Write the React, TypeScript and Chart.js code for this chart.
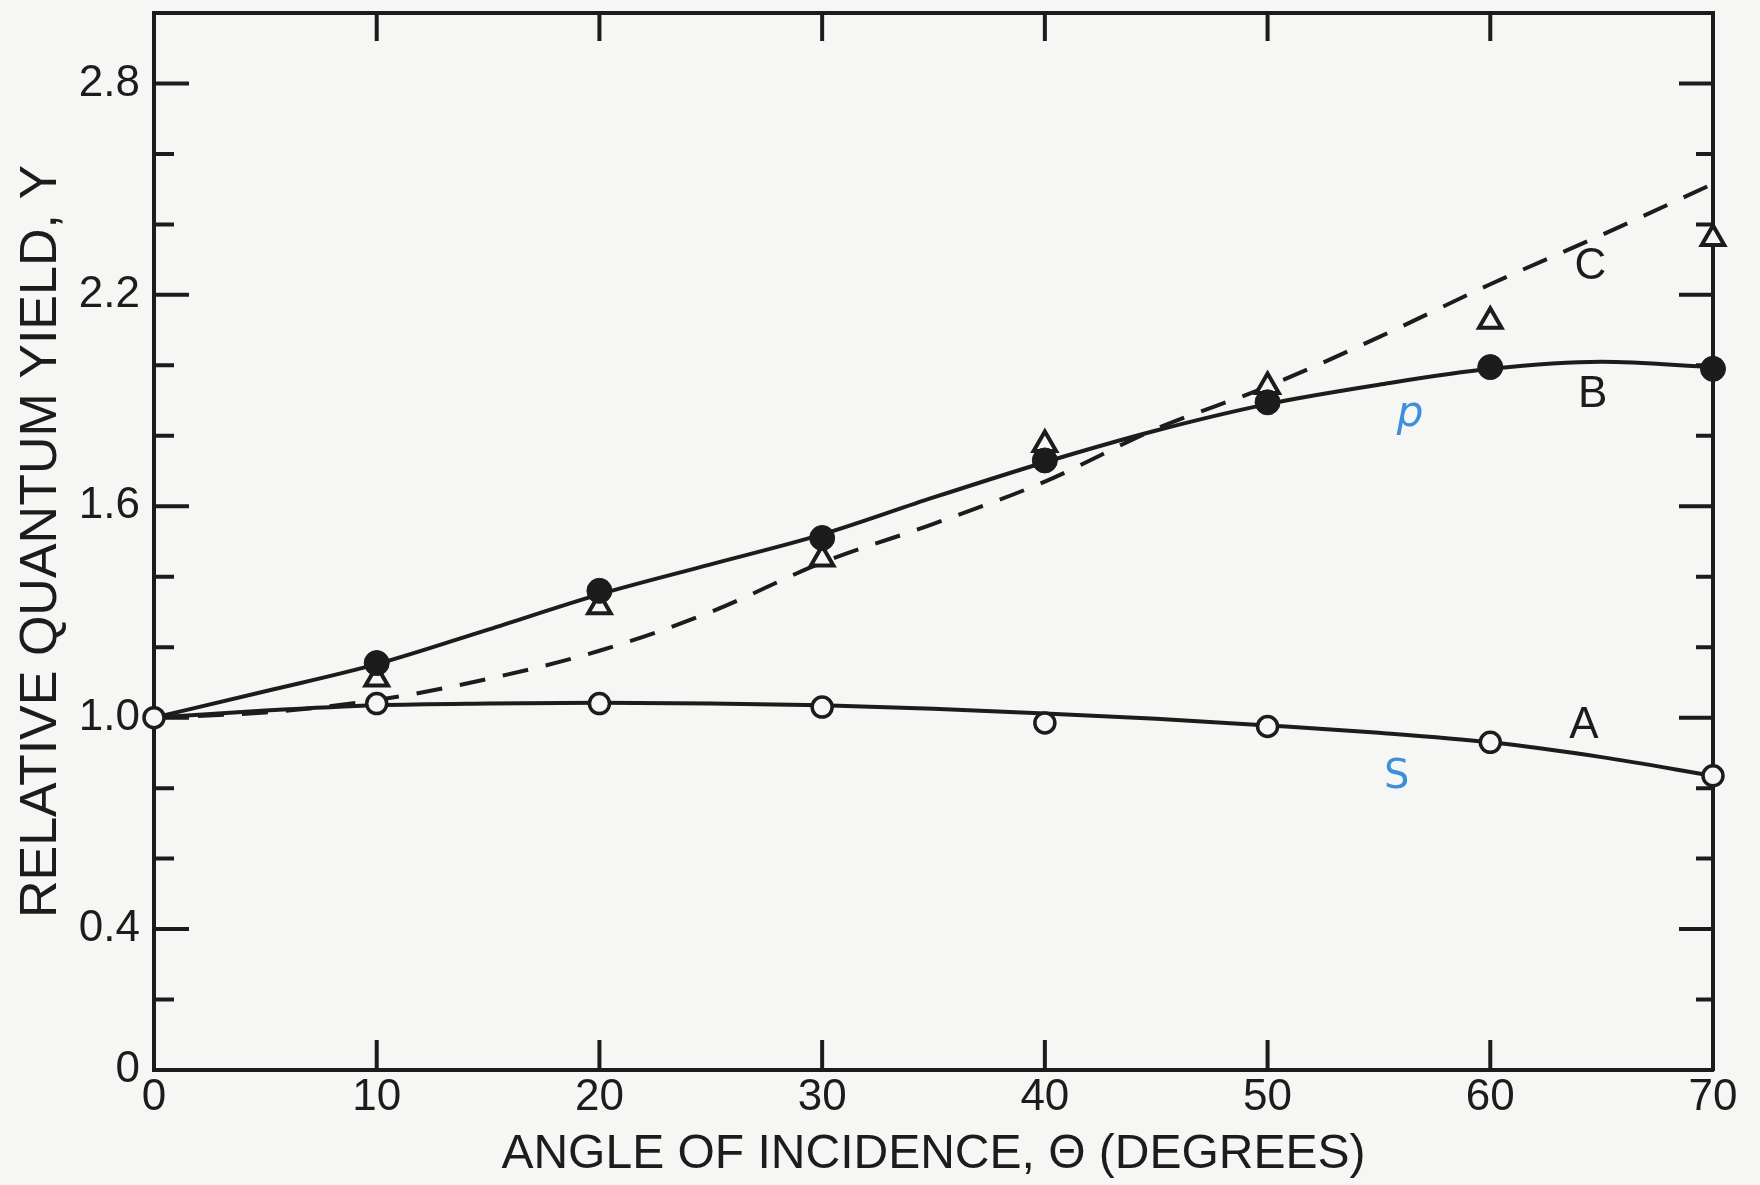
import React, { useEffect, useRef } from 'react';
import { Chart, registerables } from 'chart.js';

Chart.register(...registerables);

// ---- axis ticks ----
const X_TICKS = [0, 10, 20, 30, 40, 50, 60, 70];
const X_TICK_LABELS = ['0', '10', '20', '30', '40', '50', '60', '70'];
const X_INNER_TICKS = [10, 20, 30, 40, 50, 60];
const Y_TICKS = [0, 0.4, 1.0, 1.6, 2.2, 2.8];
const Y_TICK_LABELS = ['0', '0.4', '1.0', '1.6', '2.2', '2.8'];
const Y_MAJOR_INNER = [0.4, 1.0, 1.6, 2.2, 2.8];
const Y_MINOR_INNER = [0.2, 0.6, 0.8, 1.2, 1.4, 1.8, 2.0, 2.4, 2.6];

// ---- measured points ----
const POINT_ANGLES = [0, 10, 20, 30, 40, 50, 60, 70];
const A_POINTS = [1.0, 1.04, 1.04, 1.03, 0.985, 0.975, 0.93, 0.835];
const BC_ANGLES = [10, 20, 30, 40, 50, 60, 70];
const B_POINTS = [1.155, 1.36, 1.51, 1.73, 1.895, 1.995, 1.99];
const C_POINTS = [1.11, 1.315, 1.45, 1.775, 1.94, 2.125, 2.36];

// ---- fitted curves (read every 5 degrees) ----
const CURVE_ANGLES = [0, 5, 10, 15, 20, 25, 30, 35, 40, 45, 50, 55, 60, 65, 70];
const A_CURVE = [1.0, 1.02, 1.035, 1.04, 1.042, 1.04, 1.035, 1.025, 1.012, 0.997, 0.978, 0.957, 0.93, 0.888, 0.835];
const B_CURVE = [1.0, 1.075, 1.152, 1.25, 1.35, 1.435, 1.52, 1.625, 1.725, 1.815, 1.89, 1.945, 1.99, 2.01, 1.995];
const C_CURVE = [1.0, 1.015, 1.05, 1.11, 1.19, 1.3, 1.44, 1.55, 1.67, 1.82, 1.94, 2.08, 2.23, 2.37, 2.515];

// ---- curve annotations ----
const CURVE_LABELS = ['A', 'B', 'C'];
const CURVE_LABEL_X = [64.2, 64.6, 64.5];
const CURVE_LABEL_Y = [0.978, 1.915, 2.28];
const POL_LABELS = ['p', 'S'];
const POL_LABEL_X = [56.4, 55.8];
const POL_LABEL_Y = [1.86, 0.83];

const X_TITLE = 'ANGLE OF INCIDENCE, \u0398 (DEGREES)';
const Y_TITLE = 'RELATIVE QUANTUM YIELD, Y';

const INK = '#1c1c1c';
const PAPER = '#f6f6f4';
const BLUE = '#3d8fdc';
const FONT = '"Liberation Sans", Arial, sans-serif';

const zip = (xs: number[], ys: number[]) => xs.map((x, i) => ({ x, y: ys[i] }));

const noPad = (s: any) => {
  s.paddingTop = 0;
  s.paddingBottom = 0;
  s.paddingLeft = 0;
  s.paddingRight = 0;
};

const paperPlugin = {
  id: 'paper',
  beforeDraw(chart: any) {
    const { ctx, width, height } = chart;
    ctx.save();
    ctx.fillStyle = PAPER;
    ctx.fillRect(0, 0, width, height);
    ctx.restore();
  },
};

const innerTicksPlugin = {
  id: 'innerTicks',
  beforeDatasetsDraw(chart: any) {
    const { ctx, chartArea } = chart;
    const { left, right, top, bottom } = chartArea;
    const xs = chart.scales.x;
    const ys = chart.scales.y;
    ctx.save();
    ctx.strokeStyle = INK;
    ctx.lineWidth = 4;
    ctx.beginPath();
    Y_MAJOR_INNER.forEach((v) => {
      const p = ys.getPixelForValue(v);
      ctx.moveTo(left, p); ctx.lineTo(left + 35, p);
      ctx.moveTo(right, p); ctx.lineTo(right - 34, p);
    });
    Y_MINOR_INNER.forEach((v) => {
      const p = ys.getPixelForValue(v);
      ctx.moveTo(left, p); ctx.lineTo(left + 20, p);
      ctx.moveTo(right, p); ctx.lineTo(right - 17, p);
    });
    X_INNER_TICKS.forEach((v) => {
      const p = xs.getPixelForValue(v);
      ctx.moveTo(p, bottom); ctx.lineTo(p, bottom - 30);
      ctx.moveTo(p, top); ctx.lineTo(p, top + 28);
    });
    ctx.stroke();
    ctx.restore();
  },
};

const labelsPlugin = {
  id: 'curveLabels',
  afterDatasetsDraw(chart: any) {
    const { ctx } = chart;
    const xs = chart.scales.x;
    const ys = chart.scales.y;
    ctx.save();
    ctx.textAlign = 'center';
    ctx.textBaseline = 'middle';
    ctx.fillStyle = INK;
    ctx.font = `44px ${FONT}`;
    CURVE_LABELS.forEach((t, i) => {
      ctx.fillText(t, xs.getPixelForValue(CURVE_LABEL_X[i]), ys.getPixelForValue(CURVE_LABEL_Y[i]));
    });
    ctx.fillStyle = BLUE;
    POL_LABELS.forEach((t, i) => {
      ctx.font = i === 0 ? `italic 42px "DejaVu Sans", sans-serif` : `40px "DejaVu Sans", sans-serif`;
      ctx.fillText(t, xs.getPixelForValue(POL_LABEL_X[i]), ys.getPixelForValue(POL_LABEL_Y[i]));
    });
    ctx.restore();
  },
};

export default function App() {
  const ref = useRef<HTMLCanvasElement | null>(null);

  useEffect(() => {
    if (!ref.current) return;
    const chart = new Chart(ref.current, {
      type: 'line',
      data: {
        datasets: [
          {
            label: 'A points',
            data: zip(POINT_ANGLES, A_POINTS),
            showLine: false,
            pointStyle: 'circle',
            pointRadius: 10,
            pointBorderWidth: 3.5,
            pointBorderColor: INK,
            pointBackgroundColor: PAPER,
            clip: false,
            order: 0,
          },
          {
            label: 'B points',
            data: zip(BC_ANGLES, B_POINTS),
            showLine: false,
            pointStyle: 'circle',
            pointRadius: 12.5,
            pointBorderWidth: 1,
            pointBorderColor: INK,
            pointBackgroundColor: INK,
            clip: false,
            order: 0,
          },
          {
            label: 'C points',
            data: zip(BC_ANGLES, C_POINTS),
            showLine: false,
            pointStyle: 'triangle',
            pointRadius: 13,
            pointBorderWidth: 4,
            pointBorderColor: INK,
            pointBackgroundColor: PAPER,
            clip: false,
            order: 0,
          },
          {
            label: 'A',
            data: zip(CURVE_ANGLES, A_CURVE),
            borderColor: INK,
            borderWidth: 4,
            pointRadius: 0,
            cubicInterpolationMode: 'monotone',
            clip: false,
            order: 1,
          },
          {
            label: 'B',
            data: zip(CURVE_ANGLES, B_CURVE),
            borderColor: INK,
            borderWidth: 4,
            pointRadius: 0,
            cubicInterpolationMode: 'monotone',
            clip: false,
            order: 1,
          },
          {
            label: 'C',
            data: zip(CURVE_ANGLES, C_CURVE),
            borderColor: INK,
            borderWidth: 4,
            borderDash: [26, 18],
            pointRadius: 0,
            cubicInterpolationMode: 'monotone',
            clip: false,
            order: 1,
          },
        ],
      },
      options: {
        animation: false,
        responsive: false,
        devicePixelRatio: 1,
        events: [],
        layout: { autoPadding: false, padding: { left: 0, top: 13, right: 47, bottom: 0 } },
        plugins: { legend: { display: false }, tooltip: { enabled: false } },
        scales: {
          x: {
            type: 'linear',
            position: 'bottom',
            min: 0,
            max: 70,
            afterBuildTicks: (s: any) => { s.ticks = X_TICKS.map((v) => ({ value: v })); },
            afterFit: (s: any) => { s.height = 115; noPad(s); },
            ticks: {
              autoSkip: false,
              maxRotation: 0,
              padding: 6,
              color: INK,
              font: { family: FONT, size: 44, lineHeight: 1 },
              callback: (_v: any, i: number) => X_TICK_LABELS[i],
            },
            grid: { drawOnChartArea: false, drawTicks: false },
            border: { display: true, color: INK, width: 4 },
            title: {
              display: true,
              text: X_TITLE,
              color: INK,
              font: { family: FONT, size: 48, lineHeight: 1 },
              padding: { top: 0, bottom: 6 },
            },
          },
          x2: {
            type: 'linear',
            position: 'top',
            min: 0,
            max: 70,
            afterFit: (s: any) => { s.height = 0; noPad(s); },
            ticks: { display: false },
            grid: { drawOnChartArea: false, drawTicks: false },
            border: { display: true, color: INK, width: 4 },
          },
          y: {
            type: 'linear',
            position: 'left',
            min: 0,
            max: 3.0,
            afterBuildTicks: (s: any) => { s.ticks = Y_TICKS.map((v) => ({ value: v })); },
            afterFit: (s: any) => { s.width = 154; noPad(s); },
            ticks: {
              autoSkip: false,
              padding: 14,
              color: INK,
              font: { family: FONT, size: 44, lineHeight: 1 },
              callback: (_v: any, i: number) => Y_TICK_LABELS[i],
            },
            grid: { drawOnChartArea: false, drawTicks: false },
            border: { display: true, color: INK, width: 4 },
            title: {
              display: true,
              text: Y_TITLE,
              color: INK,
              font: { family: FONT, size: 52, lineHeight: 1 },
              padding: { top: 16, bottom: 0 },
            },
          },
          y2: {
            type: 'linear',
            position: 'right',
            min: 0,
            max: 3.0,
            afterFit: (s: any) => { s.width = 0; noPad(s); },
            ticks: { display: false },
            grid: { drawOnChartArea: false, drawTicks: false },
            border: { display: true, color: INK, width: 4 },
          },
        },
      },
      plugins: [paperPlugin, innerTicksPlugin, labelsPlugin],
    } as any);
    return () => chart.destroy();
  }, []);

  return (
    <div style={{ position: 'absolute', left: 0, top: 0, width: 1760, height: 1185, background: PAPER }}>
      <canvas ref={ref} width={1760} height={1185} style={{ display: 'block', width: 1760, height: 1185 }} />
    </div>
  );
}
